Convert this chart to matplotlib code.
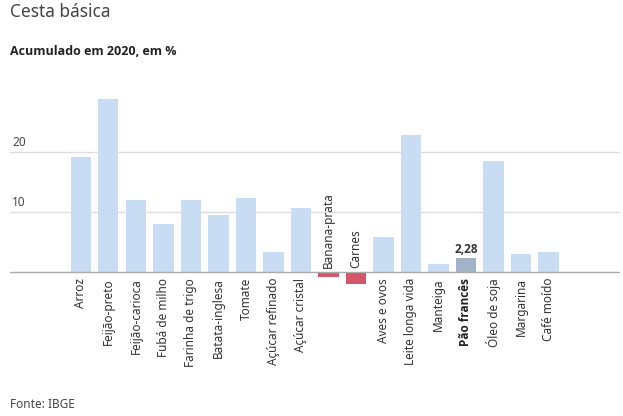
import matplotlib
matplotlib.use("Agg")
import matplotlib.pyplot as plt

plt.rcParams['font.family'] = ['Noto Sans', 'DejaVu Sans']
NEGRITO = ['Open Sans', 'DejaVu Sans']

# dados: variacao acumulada em 2020 (%)
produtos = ['Arroz', 'Feijão-preto', 'Feijão-carioca', 'Fubá de milho',
            'Farinha de trigo', 'Batata-inglesa', 'Tomate', 'Açúcar refinado',
            'Açúcar cristal', 'Banana-prata', 'Carnes', 'Aves e ovos',
            'Leite longa vida', 'Manteiga', 'Pão francês', 'Óleo de soja',
            'Margarina', 'Café moído']
valores = [19.2, 28.8, 12.0, 8.0, 12.0, 9.5, 12.3, 3.3, 10.7, -0.8, -2.0,
           5.8, 22.8, 1.3, 2.28, 18.5, 3.0, 3.3]
destaque = 'Pão francês'
yticks = [10, 20]

AZUL = '#c8dcf3'
VERMELHO = '#d5566b'
CINZA_AZUL = '#a2b3c8'

fig = plt.figure(figsize=(6.23, 4.16), dpi=100)
ax = fig.add_axes([10 / 623, 0.3029, 610 / 623, 0.476])

cores = []
for p, v in zip(produtos, valores):
    if p == destaque:
        cores.append(CINZA_AZUL)
    elif v < 0:
        cores.append(VERMELHO)
    else:
        cores.append(AZUL)

x = list(range(len(produtos)))
ax.bar(x, valores, width=0.73, color=cores, zorder=2)

ax.set_xlim(-2.58, 19.6)
ax.set_ylim(-3, 30)

# grade
for t in yticks:
    ax.axhline(t, color='#dddddd', lw=1, zorder=1)
    ax.annotate(str(t), xy=(0, t), xycoords=('axes fraction', 'data'),
                xytext=(1.5, 2.5), textcoords='offset points',
                ha='left', va='bottom', fontsize=8.5, color='#444444')
ax.axhline(0, color='#aaaaaa', lw=1, zorder=3)

# rotulos das categorias
for i, (p, v) in enumerate(zip(produtos, valores)):
    if p == destaque:
        fam, peso, cor = NEGRITO, 'bold', '#222222'
    else:
        fam, peso, cor = plt.rcParams['font.family'], 'normal', '#333333'
    if v < 0:
        ax.annotate(p, xy=(i, 0), xytext=(0, 3), textcoords='offset points',
                    rotation=90, ha='center', va='bottom', fontsize=8.5,
                    color=cor, fontweight=peso, family=fam)
    else:
        ax.annotate(p, xy=(i, 0), xytext=(0, -4.3), textcoords='offset points',
                    rotation=90, ha='center', va='top', fontsize=8.5,
                    color=cor, fontweight=peso, family=fam)

# valor do destaque
i = produtos.index(destaque)
ax.annotate(f'{valores[i]:.2f}'.replace('.', ','), xy=(i, valores[i]),
            xytext=(0, 1.5), textcoords='offset points', ha='center',
            va='bottom', fontsize=8.5, fontweight='bold', color='#333333',
            family=NEGRITO)

ax.set_xticks([])
ax.set_yticks([])
for s in ax.spines.values():
    s.set_visible(False)

fig.text(10 / 623, 1 - 3 / 416, 'Cesta básica', ha='left', va='top',
         fontsize=12.5, color='#444444')
fig.text(10 / 623, 1 - 45 / 416, 'Acumulado em 2020, em %', ha='left',
         va='top', fontsize=9, fontweight='bold', color='#222222',
         family=NEGRITO)
fig.text(10 / 623, 1 - 405 / 416, 'Fonte: IBGE', ha='left', va='center',
         fontsize=8.5, color='#444444')

fig.savefig('out.png', dpi=100)
